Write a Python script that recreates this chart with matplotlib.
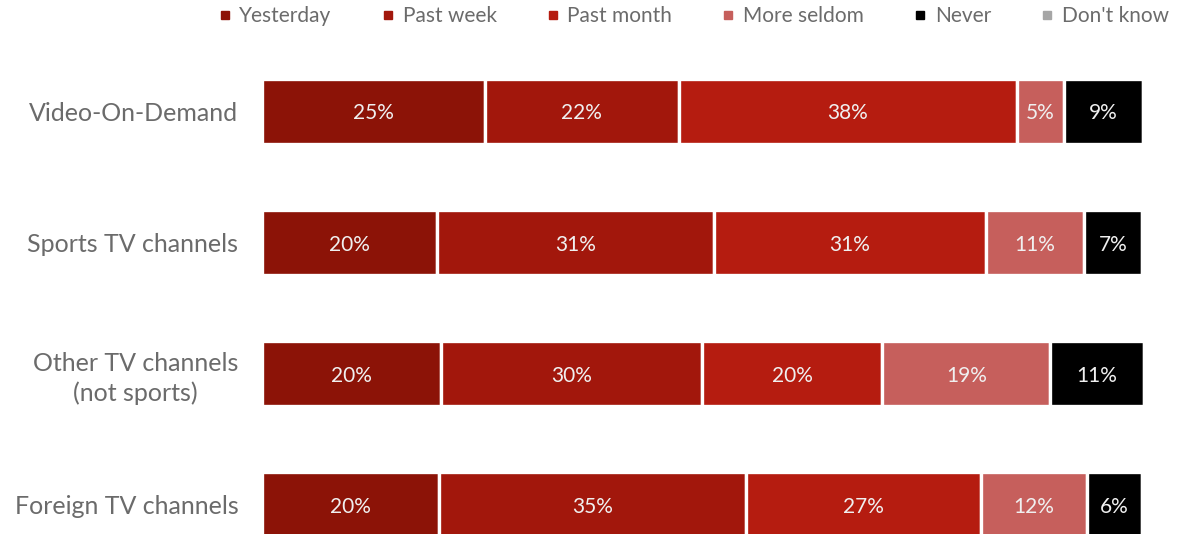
import numpy as np
import matplotlib
matplotlib.use("Agg")
import matplotlib.pyplot as plt
from matplotlib.lines import Line2D

plt.rcParams['font.family'] = ['Lato', 'DejaVu Sans']

# Data (shares in %, per category)
categories = ['Video-On-Demand', 'Sports TV channels',
              'Other TV channels\n(not sports)', 'Foreign TV channels']
answers = ['Yesterday', 'Past week', 'Past month', 'More seldom', 'Never', "Don't know"]
yesterday = [25.3, 19.9, 20.3, 20.1]
past_week = [22.0, 31.4, 29.7, 34.8]
past_month = [38.4, 30.9, 20.4, 26.7]
more_seldom = [5.3, 11.1, 19.1, 12.1]
never = [9.0, 6.6, 10.6, 6.2]
dont_know = [0.0, 0.0, 0.0, 0.0]

colors = ['#8c1307', '#a2170c', '#b51c10', '#c65f5c', '#000000', '#a6a6a6']
text_grey = '#6b6b6b'

series = [yesterday, past_week, past_month, more_seldom, never, dont_know]

fig = plt.figure(figsize=(11.92, 5.34), dpi=100)
ax = fig.add_axes([0.2198, 0.0, 0.739, 1.0])

y = np.arange(len(categories))
left = np.zeros(len(categories))
for vals, col in zip(series, colors):
    vals = np.array(vals)
    bars = ax.barh(y, vals, left=left, height=0.49, color=col,
                   edgecolor='white', linewidth=2.4)
    for b, v in zip(bars, vals):
        if v >= 1:
            ax.text(b.get_x() + b.get_width() / 2, b.get_y() + b.get_height() / 2,
                    f'{v:.0f}%', ha='center', va='center_baseline', color='#f0f0f0',
                    fontsize=15)
    left += vals

ax.set_xlim(0, 100)
ax.set_ylim(3.225, -0.851)
ax.set_yticks(y)
ax.set_yticklabels(categories, fontsize=18, color=text_grey, linespacing=1.3,
                   multialignment='center')
ax.tick_params(axis='y', length=0, pad=17)
ax.set_xticks([])
for s in ax.spines.values():
    s.set_visible(False)

handles = [Line2D([0], [0], marker='s', linestyle='none', markersize=5.5,
                  markerfacecolor=c, markeredgecolor=c) for c in colors]
fig.legend(handles, answers, loc='center', bbox_to_anchor=(0.582, 0.97),
           ncol=6, frameon=False, fontsize=15, labelcolor=text_grey,
           handlelength=0.6, handletextpad=0.4, columnspacing=2.4)

fig.savefig('out.png', dpi=100)
